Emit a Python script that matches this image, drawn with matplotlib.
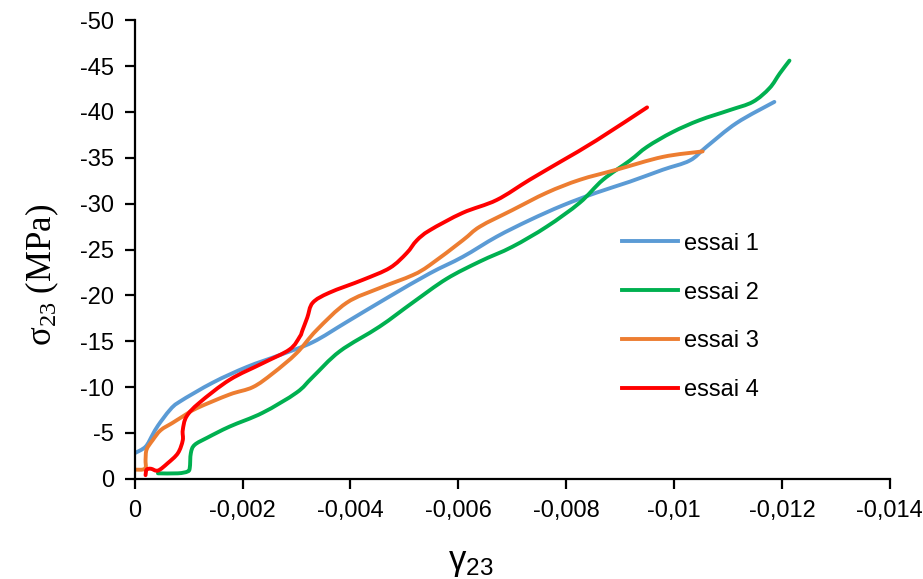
import matplotlib
matplotlib.use("Agg")
import matplotlib.pyplot as plt
from matplotlib.ticker import FuncFormatter, MultipleLocator
from matplotlib.lines import Line2D
from matplotlib.path import Path
from matplotlib.patches import PathPatch

plt.rcParams['font.family'] = ['Liberation Sans Narrow', 'Liberation Sans', 'DejaVu Sans']

# shear strain gamma_23 / shear stress sigma_23 (MPa) for each test
essai1_x = [0, -0.0002, -0.00033, -0.00043, -0.00065, -0.00083, -0.00145, -0.00208,
            -0.00269, -0.0033, -0.00393, -0.0047, -0.00547, -0.00608, -0.00671,
            -0.00732, -0.00793, -0.00856, -0.00918, -0.00979, -0.01029, -0.0106,
            -0.01116, -0.01186]
essai1_y = [-2.8, -3.5, -4.8, -5.8, -7.5, -8.4, -10.5, -12.2,
            -13.5, -14.9, -17.1, -19.8, -22.4, -24.2, -26.4,
            -28.2, -29.8, -31.2, -32.4, -33.7, -34.7, -36.2,
            -38.8, -41.1]

essai2_x = [-0.00043, -0.0008, -0.00098, -0.00102, -0.00104, -0.00111, -0.00135,
            -0.00176, -0.00237, -0.003, -0.0033, -0.0038, -0.00454, -0.00515,
            -0.00578, -0.0064, -0.007, -0.00764, -0.00825, -0.00868, -0.00918,
            -0.0095, -0.00997, -0.01047, -0.01103, -0.01146, -0.01177, -0.01196,
            -0.01214]
essai2_y = [-0.6, -0.6, -0.8, -1.2, -2.8, -3.7, -4.5,
            -5.7, -7.2, -9.4, -11.1, -13.9, -16.6, -19.2,
            -21.8, -23.7, -25.3, -27.5, -30.1, -32.6, -34.7,
            -36.2, -37.8, -39.1, -40.2, -41.1, -42.6, -44.2,
            -45.6]

essai3_x = [0, -0.00019, -0.0002, -0.00022, -0.00033, -0.00048, -0.0007, -0.00089,
            -0.00115, -0.00176, -0.00219, -0.00256, -0.003, -0.00337, -0.00393,
            -0.00454, -0.00515, -0.00547, -0.00608, -0.0064, -0.007, -0.00764,
            -0.00825, -0.00893, -0.00979, -0.01053]
essai3_y = [-1.0, -1.1, -2.1, -3.2, -4.2, -5.3, -6.1, -6.8,
            -7.7, -9.2, -10.0, -11.5, -13.7, -16.2, -19.2,
            -20.8, -22.2, -23.3, -26.0, -27.5, -29.3, -31.2,
            -32.6, -33.7, -35.1, -35.7]

essai4_x = [-0.0002, -0.00022, -0.0003, -0.00043, -0.00061, -0.0008, -0.00089,
            -0.00089, -0.00096, -0.0012, -0.00176, -0.00237, -0.00287, -0.00306,
            -0.00311, -0.0032, -0.0033, -0.00361, -0.00423, -0.00473, -0.00504,
            -0.00523, -0.00547, -0.00608, -0.00671, -0.00732, -0.00793, -0.00856,
            -0.0095]
essai4_y = [-0.4, -1.0, -1.1, -0.9, -1.7, -2.8, -4.2,
            -5.3, -6.8, -8.3, -10.8, -12.6, -14.1, -15.5,
            -16.2, -17.6, -19.2, -20.3, -21.7, -23.0, -24.6,
            -26.0, -27.1, -29.0, -30.4, -32.6, -34.7, -36.9,
            -40.5]

series = [
    ("essai 1", essai1_x, essai1_y, "#5B9BD5"),
    ("essai 2", essai2_x, essai2_y, "#00B050"),
    ("essai 3", essai3_x, essai3_y, "#ED7D31"),
    ("essai 4", essai4_x, essai4_y, "#FF0000"),
]


def smooth_path(xs, ys):
    # Catmull-Rom through the points, written as cubic Bezier segments
    pts = list(zip(xs, ys))
    verts = [pts[0]]
    codes = [Path.MOVETO]
    n = len(pts)
    for i in range(n - 1):
        p0 = pts[max(i - 1, 0)]
        p1 = pts[i]
        p2 = pts[i + 1]
        p3 = pts[min(i + 2, n - 1)]
        c1 = (p1[0] + (p2[0] - p0[0]) / 6, p1[1] + (p2[1] - p0[1]) / 6)
        c2 = (p2[0] - (p3[0] - p1[0]) / 6, p2[1] - (p3[1] - p1[1]) / 6)
        verts += [c1, c2, p2]
        codes += [Path.CURVE4] * 3
    return Path(verts, codes)


fig = plt.figure(figsize=(9.23, 5.79), dpi=100)
ax = fig.add_axes([0.146, 0.173, 0.818, 0.792])

for label, xs, ys, color in series:
    ax.add_patch(PathPatch(smooth_path(xs, ys), fill=False, edgecolor=color,
                           lw=2.8, capstyle='round', joinstyle='round'))

ax.set_xlim(0, -0.014)
ax.set_ylim(0, -50)
ax.xaxis.set_major_locator(MultipleLocator(0.002))
ax.yaxis.set_major_locator(MultipleLocator(5))


def comma_fmt(v, pos):
    if abs(v) < 1e-12:
        return "0"
    return ("%g" % round(v, 6)).replace(".", ",")


ax.xaxis.set_major_formatter(FuncFormatter(comma_fmt))
ax.yaxis.set_major_formatter(FuncFormatter(comma_fmt))

for side in ("top", "right"):
    ax.spines[side].set_visible(False)
for side in ("left", "bottom"):
    ax.spines[side].set_linewidth(1.6)
    ax.spines[side].set_color("black")

ax.tick_params(direction="out", length=7, width=1.6, labelsize=17, pad=8)

fig.text(0.510, 0.015, r"$\mathregular{γ_{23}}$", fontsize=25, ha="center")
fig.text(0.046, 0.525, r"$\mathregular{σ_{23}}$ (MPa)", fontsize=25,
         family="Liberation Serif", rotation=90, ha="center", va="center")

handles = [Line2D([], [], color=c, lw=2.8) for _, _, _, c in series]
ax.legend(handles, [s[0] for s in series], loc="upper left",
          bbox_to_anchor=(0.651, 0.635), bbox_transform=fig.transFigure,
          frameon=False, fontsize=17, handlelength=2.35, handletextpad=0.25,
          labelspacing=1.14)

fig.savefig("out.png", dpi=100)
